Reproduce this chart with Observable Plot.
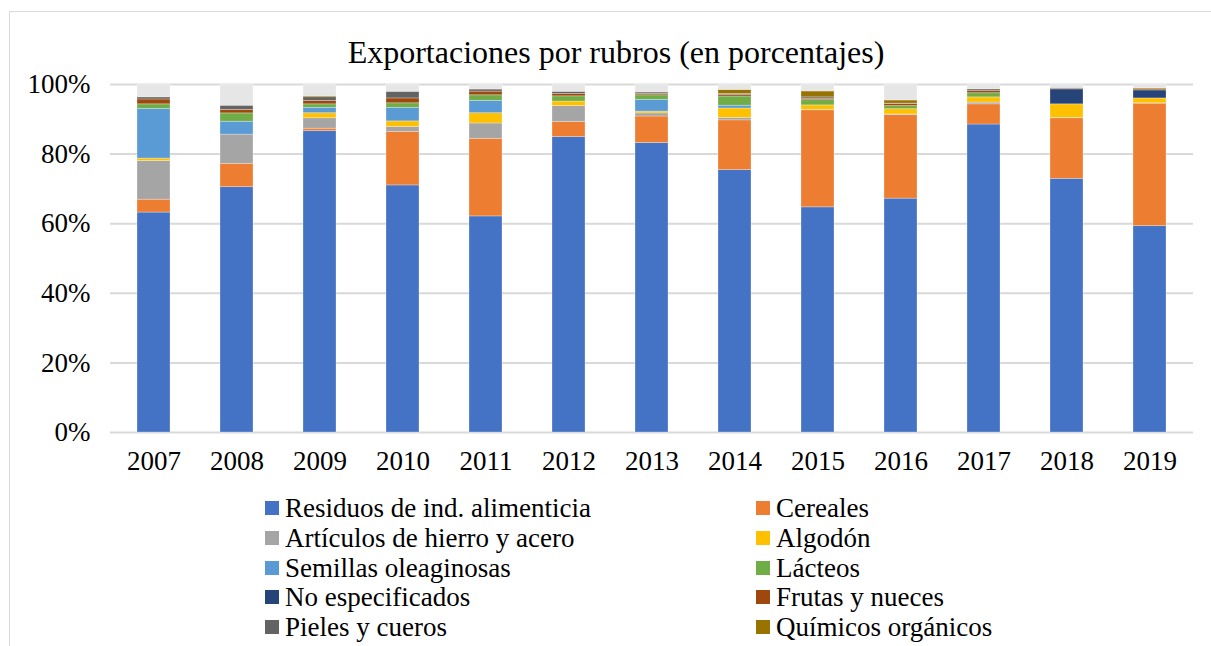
<!DOCTYPE html>
<html>
<head>
<meta charset="utf-8">
<script src="https://cdn.jsdelivr.net/npm/d3@7"></script>
<script src="https://cdn.jsdelivr.net/npm/@observablehq/plot@0.6"></script>
<style>
  html, body { margin: 0; padding: 0; background: #fff; }
  #wrap { position: relative; width: 1211px; height: 646px; overflow: hidden; font-family: "Liberation Serif", "Times New Roman", serif; color: #000; }
  #frame { position: absolute; left: 9px; top: 11px; width: 1220px; height: 660px; border: 1.5px solid #d9d9d9; box-sizing: border-box; }
  #title { position: absolute; left: 0; top: 32px; width: 1232px; text-align: center; font-size: 32px; line-height: 40px; }
  #chart { position: absolute; left: 0; top: 0; }
  #legend { position: absolute; left: 0; top: 0; }
  .li { position: absolute; font-size: 27px; line-height: 30px; white-space: nowrap; }
  .sw { position: absolute; width: 14px; height: 14px; }
</style>
</head>
<body>
<div id="wrap">
  <div id="frame"></div>
  <div id="title">Exportaciones por rubros (en porcentajes)</div>
  <div id="chart"></div>
  <div id="legend"></div>
</div>
<script>
const years = ["2007","2008","2009","2010","2011","2012","2013","2014","2015","2016","2017","2018","2019"];
const residuos  = [63.2, 70.5, 86.6, 71.0, 62.1, 84.9, 83.2, 75.4, 64.7, 67.2, 88.5, 72.9, 59.3];
const cereales  = [3.7, 6.7, 0.7, 15.4, 22.3, 4.3, 7.6, 14.3, 27.9, 24.0, 5.8, 17.4, 35.2];
const articulos = [11.1, 8.4, 3.0, 1.4, 4.4, 4.6, 0.9, 0.7, 0.1, 0.2, 0.5, 0.1, 0.1];
const algodon   = [0.7, 0.0, 1.45, 1.6, 2.95, 1.3, 0.5, 2.7, 1.3, 1.5, 1.5, 3.9, 1.4];
const semillas  = [14.3, 3.7, 1.55, 3.9, 3.55, 0.0, 3.4, 0.8, 0.0, 0.0, 0.0, 0.0, 0.0];
const lacteos   = [1.3, 2.4, 1.0, 1.3, 1.6, 1.5, 1.3, 2.65, 1.5, 0.9, 1.2, 0.0, 0.0];
const noEspec   = [0, 0, 0, 0, 0, 0, 0, 0, 0, 0, 0, 4.3, 2.3];
const frutas    = [1.4, 1.0, 1.0, 1.4, 1.05, 0.7, 0.4, 0.4, 0.4, 0.6, 0.6, 0.2, 0.3];
const pieles    = [0.6, 1.2, 1.05, 1.9, 0.6, 0.6, 0.4, 0.35, 0.4, 0.1, 0.5, 0.2, 0.0];
const quimicos  = [0.1, 0.0, 0.3, 0.0, 0.0, 0.0, 0.0, 1.15, 1.7, 0.9, 0.0, 0.0, 0.3];
const otros     = [3.6, 6.1, 3.35, 2.1, 1.45, 2.1, 2.3, 1.55, 2.0, 4.6, 1.4, 1.0, 1.1];

const seriesNames = ["Residuos de ind. alimenticia","Cereales","Artículos de hierro y acero","Algodón","Semillas oleaginosas","Lácteos","No especificados","Frutas y nueces","Pieles y cueros","Químicos orgánicos","Otros"];
const seriesValues = [residuos, cereales, articulos, algodon, semillas, lacteos, noEspec, frutas, pieles, quimicos, otros];
const seriesColors = ["#4472C4","#ED7D31","#A5A5A5","#FFC000","#5B9BD5","#70AD47","#264478","#9E480E","#636363","#997300","#E6E6E6"];
const yTicks = [0, 20, 40, 60, 80, 100];

const data = [];
seriesNames.forEach((name, si) => {
  years.forEach((yr, i) => data.push({year: yr, rubro: name, value: seriesValues[si][i]}));
});

const chart = Plot.plot({
  width: 1211,
  height: 480,
  marginTop: 84,
  marginBottom: 48,
  marginLeft: 110,
  marginRight: 18,
  style: {fontFamily: "'Liberation Serif', 'Times New Roman', serif", fontSize: "27px", color: "#000", background: "transparent"},
  x: {domain: years, paddingInner: 0.6, paddingOuter: 0.3, label: null},
  y: {domain: [0, 100], label: null},
  color: {domain: seriesNames, range: seriesColors},
  marks: [
    Plot.gridY(yTicks, {stroke: "#d9d9d9", strokeOpacity: 1, strokeWidth: 2}),
    Plot.barY(data, {x: "year", y: "value", fill: "rubro", stroke: "#fff", strokeOpacity: 0.35, strokeWidth: 0.8}),
    Plot.axisY(yTicks, {tickSize: 0, tickPadding: 20, tickFormat: d => d + "%", label: null, fontSize: 27}),
    Plot.axisX({tickSize: 0, tickPadding: 18, label: null, fontSize: 27})
  ]
});
document.getElementById("chart").appendChild(chart);

// Legend (HTML, below the SVG plot area)
const legend = document.getElementById("legend");
const legendNames = seriesNames.slice(0, 10);
legendNames.forEach((name, i) => {
  const col = i % 2, row = Math.floor(i / 2);
  const x = col === 0 ? 285 : 776;
  const cy = 508 + row * 29.75;
  const sw = document.createElement("div");
  sw.className = "sw";
  sw.style.left = (x - 20) + "px";
  sw.style.top = (cy - 7) + "px";
  sw.style.background = seriesColors[i];
  legend.appendChild(sw);
  const t = document.createElement("div");
  t.className = "li";
  t.style.left = x + "px";
  t.style.top = (cy - 15) + "px";
  t.textContent = name;
  legend.appendChild(t);
});
</script>
</body>
</html>
